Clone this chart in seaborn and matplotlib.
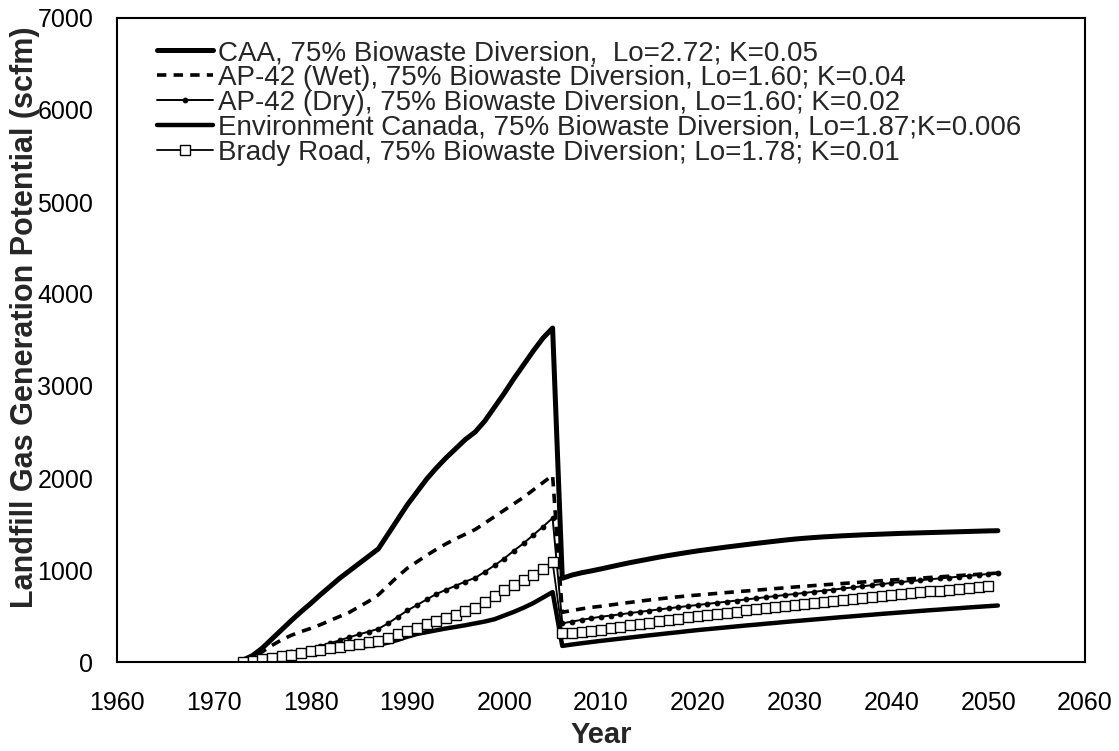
import numpy as np
import pandas as pd
import matplotlib
matplotlib.use("Agg")
import matplotlib.pyplot as plt
import seaborn as sns

# Annual landfill gas generation estimates (scfm)
years = np.arange(1973, 2052)
years_brady = np.arange(1973, 2051)

caa = [20, 70, 150, 250, 350, 450, 545, 635, 730, 820,
       910, 990, 1070, 1150, 1230, 1390, 1550, 1710, 1850, 1990,
       2110, 2220, 2320, 2420, 2500, 2620, 2770, 2920, 3080, 3230,
       3380, 3520, 3630,
       910, 945, 970, 990, 1012, 1035, 1058, 1080, 1100, 1120,
       1140, 1158, 1175, 1192, 1208, 1222, 1236, 1250, 1263, 1276,
       1289, 1301, 1313, 1325, 1336, 1345, 1353, 1360, 1366, 1372,
       1377, 1382, 1386, 1390, 1394, 1398, 1401, 1404, 1407, 1410,
       1413, 1416, 1419, 1422, 1425, 1427]

ap42_wet = [10, 50, 110, 180, 240, 290, 330, 365, 405, 450,
            495, 540, 600, 660, 730, 830, 930, 1020, 1090, 1160,
            1225, 1285, 1340, 1390, 1440, 1510, 1580, 1650, 1720, 1790,
            1870, 1950, 2030,
            540, 560, 578, 594, 606, 620, 634, 648, 661, 674,
            686, 698, 709, 719, 728, 737, 746, 755, 764, 772,
            781, 789, 798, 806, 815, 823, 831, 839, 846, 854,
            861, 869, 876, 884, 891, 898, 905, 912, 919, 926,
            933, 940, 947, 953, 960, 966]

ap42_dry = [5, 20, 40, 65, 85, 105, 125, 145, 175, 205,
            235, 270, 300, 330, 360, 420, 490, 560, 620, 680,
            740, 785, 830, 875, 915, 980, 1050, 1125, 1210, 1290,
            1380, 1470, 1565,
            420, 440, 458, 476, 492, 505, 518, 532, 545, 558,
            571, 584, 596, 608, 620, 632, 644, 656, 668, 680,
            692, 704, 716, 728, 739, 751, 763, 775, 787, 799,
            811, 823, 835, 847, 859, 869, 879, 889, 899, 909,
            918, 928, 938, 947, 957, 966]

env_canada = [3, 10, 20, 30, 45, 60, 75, 90, 105, 120,
              135, 150, 163, 176, 188, 210, 240, 275, 305, 325,
              345, 365, 382, 400, 420, 440, 465, 505, 545, 590,
              640, 700, 760,
              175, 190, 204, 217, 230, 242, 254, 266, 278, 290,
              301, 313, 324, 336, 347, 357, 367, 377, 387, 397,
              406, 416, 425, 435, 444, 453, 462, 471, 480, 489,
              497, 506, 514, 523, 531, 539, 547, 555, 563, 570,
              578, 585, 593, 600, 607, 614]

brady_road = [5, 15, 30, 45, 60, 80, 100, 118, 135, 150,
              165, 180, 195, 212, 230, 265, 305, 340, 375, 410,
              445, 480, 515, 552, 590, 650, 715, 780, 835, 890,
              950, 1015, 1085,
              310, 320, 330, 340, 352, 367, 382, 397, 412, 427,
              442, 457, 472, 486, 500, 512, 524, 536, 548, 560,
              572, 584, 596, 608, 620, 631, 642, 653, 664, 675,
              686, 697, 707, 718, 728, 738, 748, 757, 767, 777,
              786, 796, 805, 815, 824]

labels = [
    "CAA, 75% Biowaste Diversion,  Lo=2.72; K=0.05",
    "AP-42 (Wet), 75% Biowaste Diversion, Lo=1.60; K=0.04",
    "AP-42 (Dry), 75% Biowaste Diversion, Lo=1.60; K=0.02",
    "Environment Canada, 75% Biowaste Diversion, Lo=1.87;K=0.006",
    "Brady Road, 75% Biowaste Diversion; Lo=1.78; K=0.01",
]

x_ticks = list(range(1960, 2061, 10))
y_ticks = list(range(0, 7001, 1000))

sns.set_style("white")
plt.rcParams["font.family"] = ["Liberation Sans", "DejaVu Sans"]

fig = plt.figure(figsize=(11.19, 7.51), dpi=100)
ax = fig.add_axes([117 / 1119, 89 / 751, 968 / 1119, 644 / 751])

series = [
    (years, caa, dict(linewidth=3.6)),
    (years, ap42_wet, dict(linewidth=2.6, dashes=(2.6, 2.0))),
    (years, ap42_dry, dict(linewidth=1.4, marker="o", markersize=3.4,
                           markerfacecolor="black", markeredgecolor="black")),
    (years, env_canada, dict(linewidth=3.2)),
    (years_brady, brady_road, dict(linewidth=1.3, marker="s", markersize=6.5,
                                   markerfacecolor="white", markeredgecolor="black",
                                   markeredgewidth=1.0)),
]

handles = []
for (xs, ys, style), lab in zip(series, labels):
    df = pd.DataFrame({"Year": xs, "Value": ys})
    sns.lineplot(data=df, x="Year", y="Value", ax=ax, color="black",
                 label=lab, legend=False, **style)
    handles.append(ax.get_lines()[-1])

ax.set_xlim(1960, 2060)
ax.set_ylim(0, 7000)
ax.set_xticks(x_ticks)
ax.set_yticks(y_ticks)
ax.tick_params(axis="both", direction="out", length=8, width=1.2,
               labelsize=18, colors="black")
ax.tick_params(axis="x", pad=13)
ax.tick_params(axis="y", pad=9)
for sp in ax.spines.values():
    sp.set_color("black")
    sp.set_linewidth(1.5)

ax.set_xlabel("Year", fontsize=21, fontweight="bold", labelpad=4)
ax.set_ylabel("Landfill Gas Generation Potential (scfm)", fontsize=22,
              fontweight="bold", labelpad=-2)
ax.yaxis.label.set_y(0.536)

ax.legend(handles=handles, labels=labels, loc="upper left",
          bbox_to_anchor=(157 / 1119, 1 - 40 / 751), bbox_transform=fig.transFigure,
          frameon=False, fontsize=20, handlelength=2.0, handletextpad=0.2,
          borderpad=0, borderaxespad=0, labelspacing=-0.04)

fig.savefig("out.png", dpi=100, facecolor="white")
